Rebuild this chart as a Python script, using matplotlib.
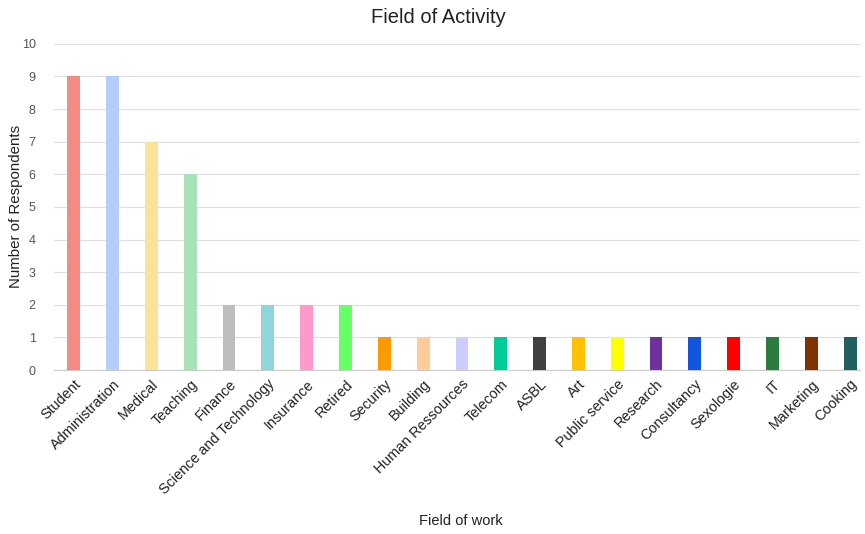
import matplotlib
matplotlib.use("Agg")
import matplotlib.pyplot as plt

fields = ["Student", "Administration", "Medical", "Teaching", "Finance",
          "Science and Technology", "Insurance", "Retired", "Security", "Building",
          "Human Ressources", "Telecom", "ASBL", "Art", "Public service",
          "Research", "Consultancy", "Sexologie", "IT", "Marketing", "Cooking"]
respondents = [9, 9, 7, 6, 2, 2, 2, 2, 1, 1, 1, 1, 1, 1, 1, 1, 1, 1, 1, 1, 1]
colors = ["#f28b82", "#b4cefb", "#fbe29b", "#a8e3b7", "#bdbdbd",
          "#8fd6dc", "#ff99cc", "#66ff66", "#ff9900", "#ffcc99",
          "#ccccff", "#00cc99", "#404040", "#ffc000", "#ffff00",
          "#7030a0", "#1155dd", "#ff0000", "#2a7d3e", "#7f3300", "#215f61"]

plt.rcParams["font.family"] = ["Liberation Sans", "DejaVu Sans"]

fig = plt.figure(figsize=(8.65, 5.34), dpi=100)
ax = fig.add_axes([0.062, 0.307, 0.932, 0.611])

x = range(len(fields))
ax.bar(x, respondents, width=0.33, color=colors, zorder=3)

ax.set_ylim(0, 10)
ax.set_xlim(-0.52, 20.25)
ax.set_yticks(range(0, 11))
ax.grid(axis="y", color="#e0e0e0", linewidth=0.9, zorder=0)
for s in ["top", "right", "left"]:
    ax.spines[s].set_visible(False)
ax.spines["bottom"].set_color("#cccccc")
ax.tick_params(axis="both", length=0, colors="#555555", labelsize=9)
ax.tick_params(axis="y", pad=13)
ax.tick_params(axis="x", pad=5)
ax.set_xticks(list(x))
ax.set_xticklabels(fields, rotation=45, ha="right", rotation_mode="anchor",
                   color="#222222", fontsize=10.4)

fig.text(0.507, 0.968, "Field of Activity", fontsize=14.5, color="#222222",
         ha="center", va="center")
ax.set_ylabel("Number of Respondents", fontsize=10.8, color="#222222")
ax.yaxis.set_label_coords(-0.038, 0.5)
ax.set_xlabel("Field of work", fontsize=10.5, color="#222222")
ax.xaxis.set_label_coords(0.505, -0.44)

fig.savefig("out.png", dpi=100)
